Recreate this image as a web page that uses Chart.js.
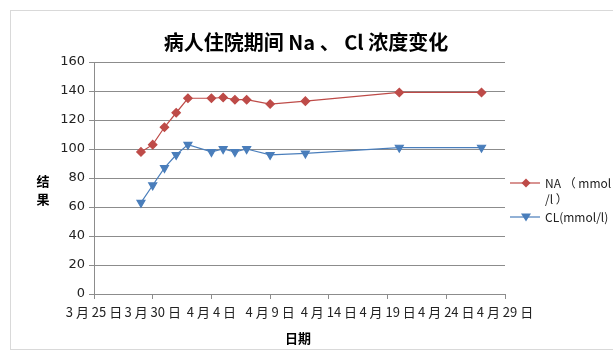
<!DOCTYPE html>
<html>
<head>
<meta charset="utf-8">
<script src="https://cdn.jsdelivr.net/npm/chart.js@4/dist/chart.umd.min.js"></script>
<style>
  html, body { margin: 0; padding: 0; background: #fff; }
  #wrap { width: 613px; height: 362px; position: relative; }
</style>
</head>
<body>
<div id="wrap"><canvas id="chart" width="613" height="362"></canvas></div>
<script>
// data (dates are month-day)
const naDates = ['3-29', '3-30', '3-31', '4-1', '4-2', '4-4', '4-5', '4-6', '4-7', '4-9', '4-12', '4-20', '4-27'];
const naValues = [98, 103, 115, 125, 135, 135, 135.5, 134, 134, 131, 133, 139, 139];
const clDates = ['3-29', '3-30', '3-31', '4-1', '4-2', '4-4', '4-5', '4-6', '4-7', '4-9', '4-12', '4-20', '4-27'];
const clValues = [63, 75, 87, 96, 103, 98, 100, 98, 100, 96, 97, 101, 101];
const xTickLabels = ['3 月 25 日', '3 月 30 日', '4 月 4 日', '4 月 9 日', '4 月 14 日', '4 月 19 日', '4 月 24 日', '4 月 29 日'];
const yTicks = [0, 20, 40, 60, 80, 100, 120, 140, 160];

const chartTitle = '病人住院期间 Na 、 Cl 浓度变化';
const yTitle = ['结', '果'];
const xTitle = '日期';
const naLabel = ['NA （ mmol', '/l ）'];
const clLabel = ['CL(mmol/l)'];

const NA_COLOR = '#BE4B48';
const CL_COLOR = '#4A7EBB';
const GRID = '#8c8c8c';
const CJK = '"Noto Sans CJK SC", "Noto Sans", sans-serif';

// days since 3月25日
function dayOf(s) {
    const [m, d] = s.split('-').map(Number);
    return m === 3 ? d - 25 : 6 + d;
}
const toPoints = (dates, vals) => dates.map((d, i) => ({ x: dayOf(d), y: vals[i] }));

function marker(ctx, style, color, x, y) {
    ctx.save();
    ctx.fillStyle = color;
    ctx.beginPath();
    if (style === 'diamond') {
        const r = 4.5;
        ctx.moveTo(x, y - r); ctx.lineTo(x + r, y); ctx.lineTo(x, y + r); ctx.lineTo(x - r, y);
    } else {
        ctx.moveTo(x - 5, y - 3.5); ctx.lineTo(x + 5, y - 3.5); ctx.lineTo(x, y + 4.5);
    }
    ctx.closePath();
    ctx.fill();
    ctx.restore();
}

const decorations = {
    id: 'decorations',
    afterDraw(chart) {
        const ctx = chart.ctx;
        ctx.save();
        // outer frame
        ctx.strokeStyle = '#d9d9d9';
        ctx.lineWidth = 1;
        ctx.strokeRect(10.5, 10.5, 700, 339);

        ctx.fillStyle = '#000';
        ctx.textAlign = 'center';
        ctx.textBaseline = 'middle';
        ctx.font = 'bold 20px ' + CJK;
        ctx.fillText(chartTitle, 306, 42);

        ctx.font = 'bold 13px ' + CJK;
        ctx.fillText(yTitle[0], 43, 181);
        ctx.fillText(yTitle[1], 43, 199);
        ctx.fillText(xTitle, 298, 338);

        // legend
        ctx.textAlign = 'left';
        ctx.font = '12px ' + CJK;
        ctx.fillStyle = '#222';
        const items = [
            { color: NA_COLOR, style: 'diamond', y: 183, text: naLabel },
            { color: CL_COLOR, style: 'triangle', y: 217, text: clLabel }
        ];
        items.forEach(it => {
            ctx.strokeStyle = it.color;
            ctx.lineWidth = 1.2;
            ctx.beginPath();
            ctx.moveTo(510, it.y); ctx.lineTo(540, it.y);
            ctx.stroke();
            marker(ctx, it.style, it.color, 526, it.y);
            it.text.forEach((t, i) => ctx.fillText(t, 545, it.y + i * 16));
        });
        ctx.restore();
    }
};

new Chart(document.getElementById('chart'), {
    type: 'scatter',
    data: {
        datasets: [{
            label: naLabel.join(''),
            data: toPoints(naDates, naValues),
            showLine: true,
            borderColor: NA_COLOR,
            backgroundColor: NA_COLOR,
            borderWidth: 1.2,
            pointStyle: 'rectRot',
            pointRadius: 4.2,
            pointHoverRadius: 4.2
        }, {
            label: clLabel[0],
            data: toPoints(clDates, clValues),
            showLine: true,
            borderColor: CL_COLOR,
            backgroundColor: CL_COLOR,
            borderWidth: 1.2,
            pointStyle: 'triangle',
            pointRotation: 180,
            pointRadius: 4.6,
            pointHoverRadius: 4.6
        }]
    },
    options: {
        responsive: false,
        animation: false,
        layout: { padding: { left: 0, right: 108, top: 62, bottom: 38 } },
        plugins: {
            legend: { display: false },
            tooltip: { enabled: false }
        },
        scales: {
            x: {
                type: 'linear',
                min: 0,
                max: 35,
                afterFit: s => { s.height = 30; },
                afterBuildTicks: s => { s.ticks = xTickLabels.map((_, i) => ({ value: i * 5 })); },
                ticks: {
                    autoSkip: false,
                    maxRotation: 0,
                    color: '#222',
                    font: { size: 13, family: CJK },
                    padding: 5,
                    callback: v => xTickLabels[v / 5]
                },
                grid: { drawOnChartArea: false, color: GRID, tickLength: 5 },
                border: { color: GRID }
            },
            y: {
                min: 0,
                max: 160,
                afterFit: s => { s.width = 94; },
                afterBuildTicks: s => { s.ticks = yTicks.map(v => ({ value: v })); },
                ticks: {
                    color: '#222',
                    font: { size: 13, family: '"DejaVu Sans", sans-serif' },
                    padding: 4
                },
                grid: { color: GRID, tickLength: 5 },
                border: { color: GRID }
            }
        }
    },
    plugins: [decorations]
});
</script>
</body>
</html>
